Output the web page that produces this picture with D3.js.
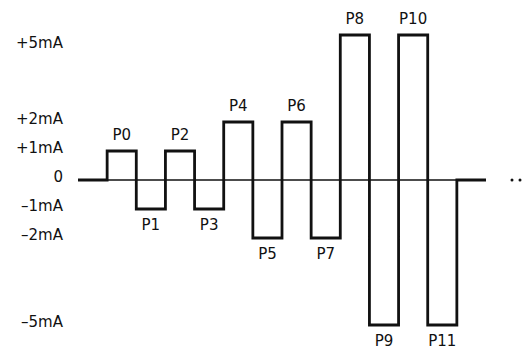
<!DOCTYPE html>
<html>
<head>
<meta charset="utf-8">
<script src="https://cdn.jsdelivr.net/npm/d3@7"></script>
<style>
  body { margin: 0; background: #fff; }
  text { font-family: "DejaVu Sans", sans-serif; fill: #111; }
</style>
</head>
<body>
<script>
// pulse train, one value (mA) per pulse slot
var pulseNames = ["P0", "P1", "P2", "P3", "P4", "P5", "P6", "P7", "P8", "P9", "P10", "P11"];
var pulseValues = [1, -1, 1, -1, 2, -2, 2, -2, 5, -5, 5, -5];

// y axis ticks
var tickValues = [5, 2, 1, 0, -1, -2, -5];
var tickLabels = ["+5mA", "+2mA", "+1mA", "0", "\u20131mA", "\u20132mA", "\u20135mA"];

var width = 522,
    height = 349;

var svg = d3.select("body").append("svg")
  .attr("width", width)
  .attr("height", height);

// slot -1 is the lead in, slot 12 the tail
var x = d3.scaleLinear().domain([-1, 13]).range([78, 486]);
var y = d3.scaleLinear().domain([-5, 5]).range([325, 35]);

// thin zero axis
svg.append("line")
  .attr("x1", x(-1)).attr("x2", x(13))
  .attr("y1", y(0)).attr("y2", y(0))
  .attr("stroke", "#111")
  .attr("stroke-width", 1.5);

// waveform points: lead in, pulses, back to zero
var pts = [[-1, 0]];
pulseValues.forEach(function(v, i) { pts.push([i, v]); });
pts.push([pulseValues.length, 0]);
pts.push([pulseValues.length + 1, 0]);

var line = d3.line()
  .x(function(d) { return x(d[0]); })
  .y(function(d) { return y(d[1]); })
  .curve(d3.curveStepAfter);

svg.append("path")
  .datum(pts)
  .attr("d", line)
  .attr("fill", "none")
  .attr("stroke", "#111")
  .attr("stroke-width", 2.8)
  .attr("stroke-linejoin", "miter");

// pulse labels, above positive pulses and under negative ones
svg.append("g").selectAll("text")
  .data(pulseValues)
  .enter().append("text")
  .attr("x", function(d, i) { return x(i + 0.5); })
  .attr("y", function(d) { return d > 0 ? y(d) - 11 : y(d) + 21; })
  .attr("text-anchor", "middle")
  .style("font-size", "15px")
  .text(function(d, i) { return pulseNames[i]; });

// y tick labels
svg.append("g").selectAll("text")
  .data(tickValues)
  .enter().append("text")
  .attr("x", 63)
  .attr("y", function(d) { return y(d) + (d === 5 ? 13 : 2); })
  .attr("text-anchor", "end")
  .style("font-size", "15px")
  .text(function(d, i) { return tickLabels[i]; });

// continuation dots after the tail
svg.append("g").selectAll("circle")
  .data([26, 34])
  .enter().append("circle")
  .attr("cx", function(d) { return x(13) + d; })
  .attr("cy", y(0))
  .attr("r", 1.5)
  .attr("fill", "#111");
</script>
</body>
</html>
